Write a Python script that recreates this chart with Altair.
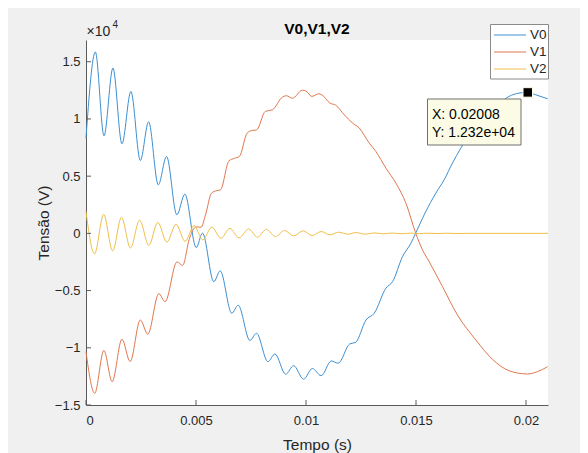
import altair as alt
import pandas as pd

# ---------------- data ----------------
series_names = ["V0", "V1", "V2"]
series_colors = ["#3d8fd1", "#e0774d", "#efbf4a"]

v0_t = [0.0, 0.000427, 0.000817, 0.001225, 0.001634, 0.002042, 0.002469, 0.002846,
        0.003286, 0.003662, 0.004130, 0.004493, 0.005010, 0.005296, 0.005809, 0.006100,
        0.006626, 0.006917, 0.007452, 0.007747, 0.008269, 0.008587, 0.009077, 0.009435,
        0.009889, 0.010289, 0.010688, 0.011151, 0.011459, 0.011990, 0.012254, 0.012726,
        0.013102, 0.013633, 0.013933, 0.014387, 0.014768, 0.014986, 0.015408, 0.015903,
        0.016279, 0.016656, 0.017037, 0.017414, 0.018095, 0.018775, 0.019229, 0.019683,
        0.020080, 0.020441, 0.020986]
v0_v = [8330, 15850, 8530, 14450, 7830, 12400, 6370, 9750,
        4240, 6720, 1620, 3430, -1240, 20, -4220, -3280,
        -6980, -6280, -9360, -8730, -11210, -10540, -12310, -11560,
        -12740, -11810, -12440, -11150, -11350, -9660, -9530, -7570,
        -6980, -4790, -4220, -2030, -860, 20, 1770, 3520,
        4680, 6140, 7450, 8620, 10100, 11330, 11970, 12260,
        12320, 12110, 11760]

v1_t = [0.0, 0.000395, 0.000812, 0.001189, 0.001634, 0.002006, 0.002469, 0.002809,
        0.003309, 0.003594, 0.004139, 0.004389, 0.004706, 0.005010, 0.005228, 0.005433,
        0.005705, 0.005954, 0.006113, 0.006499, 0.006749, 0.006975, 0.007325, 0.007565,
        0.007747, 0.008155, 0.008473, 0.008927, 0.009109, 0.009381, 0.009835, 0.009994,
        0.010266, 0.010584, 0.010720, 0.011083, 0.011355, 0.011741, 0.012117, 0.012422,
        0.012875, 0.013180, 0.013633, 0.014087, 0.014541, 0.014986, 0.015294, 0.015598,
        0.016202, 0.016883, 0.017718, 0.018471, 0.019229, 0.020060, 0.020514, 0.020986]
v1_v = [-10340, -13980, -10230, -12960, -9250, -11200, -7570, -8810,
        -5270, -5970, -2490, -2800, -420, 570, 530, 1620,
        3520, 3740, 3810, 6340, 6560, 6730, 8760, 9000,
        9030, 10670, 10800, 11910, 12030, 11810, 12510, 12450,
        11970, 12200, 12110, 11390, 11200, 10360, 9640, 9200,
        7890, 7150, 5700, 4390, 2640, 20, -1440, -2470,
        -4650, -7130, -9310, -11000, -12000, -12290, -12090, -11650]

v2_t = [0.0, 0.000386, 0.000803, 0.001212, 0.001611, 0.002020, 0.002437, 0.002855,
        0.003263, 0.003672, 0.004094, 0.004502, 0.004911, 0.005310, 0.005718, 0.006136,
        0.006544, 0.006953, 0.007398, 0.007792, 0.008201, 0.008609, 0.009027, 0.009435,
        0.009871, 0.010275, 0.010688, 0.011083, 0.011482, 0.011913, 0.012263, 0.012694,
        0.013102, 0.013511, 0.013919, 0.014328, 0.014736, 0.015144, 0.015553, 0.015961,
        0.016370, 0.016778, 0.017500, 0.021000]
v2_v = [1920, -1790, 1660, -1530, 1400, -1270, 1160, -1050,
        960, -770, 800, -700, 680, -570, 540, -420,
        440, -390, 380, -330, 350, -280, 250, -220,
        220, -190, 160, -130, 100, -70, 70, -70,
        40, -40, 30, -30, 20, -20, 15, -15,
        10, -10, 0, 0]

x_ticks = [0, 0.005, 0.01, 0.015, 0.02]
y_ticks = [-15000, -10000, -5000, 0, 5000, 10000, 15000]
x_domain = [0, 0.021]
y_domain = [-15000, 16900]

tip_t = [0.02008]
tip_v = [12320]

# ---------------- tables ----------------
rows = []
for name, ts, vs in zip(series_names, [v0_t, v1_t, v2_t], [v0_v, v1_v, v2_v]):
    for t, v in zip(ts, vs):
        rows.append({"series": name, "t": t, "v": v})
df = pd.DataFrame(rows)

FONT = "Liberation Sans"
AXIS_COLOR = "#5a5a5a"
TEXT_COLOR = "#262626"
W, H = 462, 365

xs = alt.Scale(domain=x_domain, nice=False, zero=False)
ys = alt.Scale(domain=y_domain, nice=False, zero=False)
x_axis = alt.Axis(values=x_ticks, format="~g", labelPadding=9,
                  titleY=39, titleBaseline="middle")
y_axis = alt.Axis(values=y_ticks, labelExpr="format(datum.value/10000, '~g')",
                  labelPadding=6, titleX=-43, titleY=H / 2,
                  titleBaseline="middle", titleAngle=270)


def X(field="t:Q"):
    return alt.X(field, scale=xs, axis=x_axis, title="Tempo (s)")


def Y(field="v:Q"):
    return alt.Y(field, scale=ys, axis=y_axis, title="Tensão (V)")


lines = alt.Chart(df).mark_line(strokeWidth=1, interpolate="monotone").encode(
    x=X(), y=Y(),
    color=alt.Color("series:N", scale=alt.Scale(domain=series_names, range=series_colors),
                    legend=None),
)

# inward tick marks (MATLAB style)
xtick_layer = alt.Chart(pd.DataFrame({"t": x_ticks})).mark_rule(
    color=AXIS_COLOR, strokeWidth=1).encode(x=X(), y=alt.value(H), y2=alt.value(H - 5))
ytick_layer = alt.Chart(pd.DataFrame({"v": y_ticks})).mark_rule(
    color=AXIS_COLOR, strokeWidth=1).encode(y=Y(), x=alt.value(0), x2=alt.value(5))

# exponent label
exp_df = pd.DataFrame({"a": ["×10"], "b": ["4"]})
exp_base = alt.Chart(exp_df).mark_text(align="left", baseline="middle", fontSize=14,
                                       font=FONT, color=TEXT_COLOR).encode(
    x=alt.value(0.5), y=alt.value(-8.5), text="a:N")
exp_sup = alt.Chart(exp_df).mark_text(align="left", baseline="middle", fontSize=10,
                                      font=FONT, color=TEXT_COLOR).encode(
    x=alt.value(26.5), y=alt.value(-15), text="b:N")

# data tip
tip_df = pd.DataFrame({"t": tip_t, "v": tip_v})
tip_box = alt.Chart(tip_df).mark_rect(fill="#fcfce6", stroke="#707070", strokeWidth=1).encode(
    x=alt.value(341.5), x2=alt.value(435), y=alt.value(59), y2=alt.value(105))
tip_lines = pd.DataFrame({"label": [f"X: {tip_t[0]:.4g}", f"Y: {tip_v[0]:.4g}"]})
tip_text1 = alt.Chart(tip_lines.iloc[[0]]).mark_text(
    align="left", baseline="middle", fontSize=14, font=FONT, color="#000000").encode(
    x=alt.value(346), y=alt.value(74.5), text="label:N")
tip_text2 = alt.Chart(tip_lines.iloc[[1]]).mark_text(
    align="left", baseline="middle", fontSize=14, font=FONT, color="#000000").encode(
    x=alt.value(346), y=alt.value(93), text="label:N")
tip_marker = alt.Chart(tip_df).mark_square(size=90, fill="black", fillOpacity=1,
                                           stroke="#fcfce6", strokeWidth=1, opacity=1).encode(
    x=X(), y=Y())

# legend box (drawn by hand to match MATLAB's layout)
leg_layers = [alt.Chart(pd.DataFrame({"k": [0]})).mark_rect(
    fill="white", stroke="#8a8a8a", strokeWidth=1).encode(
    x=alt.value(404.5), x2=alt.value(462.5), y=alt.value(-15.5), y2=alt.value(39))]
for i, (name, col) in enumerate(zip(series_names, series_colors)):
    ydash = -5 + 17 * i
    leg_df = pd.DataFrame({"series": [name]})
    leg_layers.append(alt.Chart(leg_df).mark_rule(color=col, strokeWidth=1).encode(
        x=alt.value(408), x2=alt.value(440), y=alt.value(ydash)))
    leg_layers.append(alt.Chart(leg_df).mark_text(
        align="left", baseline="middle", fontSize=13.5, font=FONT, color=TEXT_COLOR).encode(
        x=alt.value(444), y=alt.value(ydash), text="series:N"))

chart = alt.layer(
    lines, xtick_layer, ytick_layer, tip_box, tip_text1, tip_text2, tip_marker,
    *leg_layers, exp_base, exp_sup,
).properties(
    width=W, height=H,
    title=alt.TitleParams("V0,V1,V2", font=FONT, fontSize=15.5, fontWeight="bold",
                          color="#000000", anchor="middle", frame="group", offset=-17),
    autosize=alt.AutoSizeParams(type="none"),
    padding={"left": 78, "top": 32, "right": 32, "bottom": 48},
    background="#f0f0f0",
).configure_view(
    stroke=None, fill="white"
).configure_axis(
    domainColor=AXIS_COLOR, domainWidth=1, ticks=False, tickSize=0, grid=False,
    labelFont=FONT, labelFontSize=13, labelColor=TEXT_COLOR,
    titleFont=FONT, titleFontSize=15.5, titleFontWeight="normal", titleColor=TEXT_COLOR,
)

chart.save("out.html", embed_options={"renderer": "svg", "actions": False})
